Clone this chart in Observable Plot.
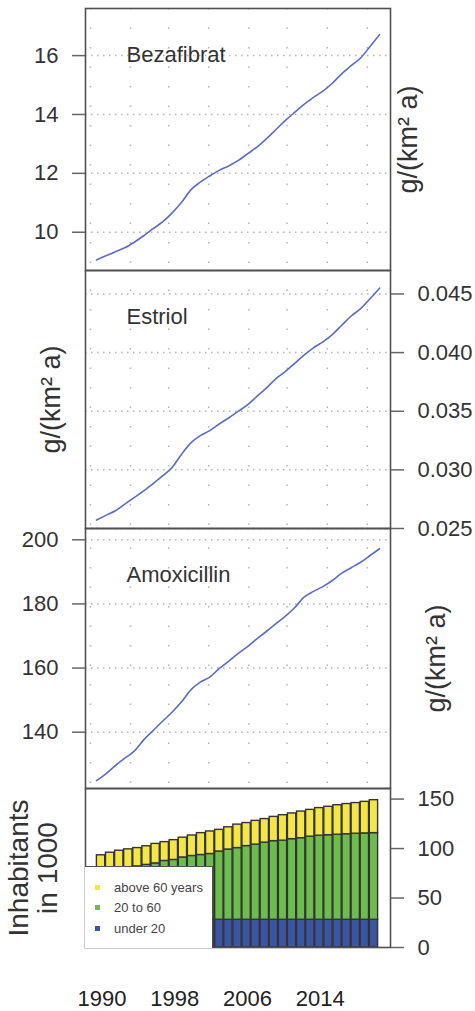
<!DOCTYPE html>
<html><head><meta charset="utf-8">
<script src="https://cdn.jsdelivr.net/npm/d3@7"></script>
<script src="https://cdn.jsdelivr.net/npm/@observablehq/plot@0.6"></script>
<style>
body{margin:0;background:#fff;font-family:"Liberation Sans",Arial,sans-serif;}
#wrap{position:relative;width:475px;height:1011px;overflow:hidden;background:#fff;}
.panel{position:absolute;left:0;}
.panel svg{overflow:visible;background:transparent;}
#legend{position:absolute;left:85px;top:866px;width:128px;height:82px;background:#fff;border-top:1.6px solid #505050;border-right:1.6px solid #505050;box-sizing:border-box;}
.item{position:absolute;left:29px;font-size:13px;color:#444;line-height:14px;white-space:nowrap;}
.sw{position:absolute;left:10px;width:5px;height:5px;}
</style></head><body><div id="wrap"></div>
<script>
// ---- data ----
const years = [1990,1991,1992,1993,1994,1995,1996,1997,1998,1999,2000,2001,2002,2003,2004,2005,2006,2007,2008,2009,2010,2011,2012,2013,2014,2015,2016,2017,2018,2019,2020];
const bezafibrat = [9.06,9.20,9.34,9.47,9.66,9.88,10.12,10.35,10.65,11.01,11.44,11.70,11.91,12.10,12.25,12.43,12.66,12.89,13.17,13.48,13.79,14.07,14.34,14.58,14.79,15.06,15.38,15.66,15.92,16.31,16.71];
const estriol = [0.02572,0.02612,0.02651,0.02708,0.02764,0.02820,0.02883,0.02948,0.03019,0.03131,0.03230,0.03292,0.03335,0.03391,0.03442,0.03498,0.03555,0.03626,0.03697,0.03775,0.03837,0.03908,0.03979,0.04041,0.04092,0.04154,0.04233,0.04312,0.04375,0.04459,0.04549];
const amoxicillin = [124.9,127.0,129.6,131.9,134.1,137.6,140.5,143.4,146.2,149.4,153.2,155.6,157.2,159.8,162.1,164.5,166.7,169.1,171.4,173.8,176.1,178.8,182.1,183.9,185.4,187.3,189.6,191.3,193.0,195.1,197.2];
const under20 = [28,28,28,28,28,28,28,28,28,28,28,28,28,28,28,28,28,28,28,28,28,28,28,28,28,28,28,28,28,28,28];
const age20to60 = [50,51,52,53,54,55.5,57,59.5,60.5,63,64.5,65.5,66.5,69,71,72.5,74.5,76,78,79.5,80,81.5,82.5,84,85,85.5,86,86.5,87,87.3,87.6];
const above60 = [15.2,16.8,17.8,18.2,18.5,18.8,19.7,19.0,20.0,20.0,20.7,22.1,22.8,21.9,22.5,23.7,23.3,24.0,23.8,24.5,25.7,26.0,26.9,27.1,27.9,28.7,29.8,30.5,31.0,31.9,33.3];
const groups = ["under 20","20 to 60","above 60 years"];
const legendOrder = ["above 60 years","20 to 60","under 20"];
const titles = ["Bezafibrat","Estriol","Amoxicillin"];
const unitLabel = "g/(km² a)";
const popLabel = "Inhabitants\nin 1000";
const bezTicks = [10,12,14,16];
const estTicks = [0.025,0.030,0.035,0.040,0.045];
const amoTicks = [140,160,180,200];
const popTicks = [0,50,100,150];
const yearLabels = [1990,1998,2006,2014];
const gridYears = [1989.36,1993.6,1997.66,2001.9,2006.15,2010.2,2014.46,2018.7];

// ---- styles ----
const FONT = '"Liberation Sans", Arial, sans-serif';
const lineColor = "#5a6cc6";
const frameColor = "#505050";
const gridColor = "#b4b4b4";
const colors = ["#3b55a5","#6cbd4e","#f5e648"];

const wrap = document.getElementById("wrap");
function place(svg, top){
  const d = document.createElement("div");
  d.className = "panel"; d.style.top = top + "px";
  d.appendChild(svg); wrap.appendChild(d);
}
function axis(ticks, anchor, fmt){
  return Plot.axisY(ticks, {anchor, tickSize: 13, tickPadding: 14, fontSize: 22, stroke: "#666", strokeWidth: 1.5, fill: "#333", tickFormat: fmt, label: null});
}
function linePanel({values, title, ticks, fmt, axisSide, domain, height, marginTop, labelDx}){
  const labelSide = axisSide === "left" ? "right" : "left";
  return Plot.plot({
    width: 475, height, marginTop, marginBottom: 0, marginLeft: 85, marginRight: 85,
    style: {fontFamily: FONT, background: "transparent", overflow: "visible"},
    x: {domain: [years[0], years[years.length-1]], insetLeft: 11, insetRight: 11, axis: null},
    y: {domain, axis: null},
    marks: [
      Plot.ruleX(gridYears, {stroke: gridColor, strokeWidth: 1.5, strokeDasharray: "1.5,18"}),
      Plot.ruleY(ticks, {stroke: gridColor, strokeWidth: 1.5, strokeDasharray: "1.5,4.5"}),
      Plot.lineY(values, {x: (d, i) => years[i], y: d => d, stroke: lineColor, strokeWidth: 1.6, curve: "monotone-x"}),
      Plot.frame({stroke: frameColor, strokeWidth: 1.6}),
      axis(ticks, axisSide, fmt),
      Plot.text([unitLabel], {frameAnchor: labelSide, textAnchor: "middle", dx: labelDx, rotate: -90, fontSize: 27, fill: "#333"}),
      Plot.text([title], {frameAnchor: "top-left", dx: 41, dy: 38, textAnchor: "start", fontSize: 22, fill: "#333"})
    ]
  });
}

place(linePanel({values: bezafibrat, title: titles[0], ticks: bezTicks, fmt: d3.format("d"), axisSide: "left", domain: [8.70, 17.60], height: 270, marginTop: 8, labelDx: 18}), 0);
place(linePanel({values: estriol, title: titles[1], ticks: estTicks, fmt: d3.format(".3f"), axisSide: "right", domain: [0.025, 0.047], height: 258, marginTop: 0, labelDx: -34}), 270);
place(linePanel({values: amoxicillin, title: titles[2], ticks: amoTicks, fmt: d3.format("d"), axisSide: "left", domain: [122.44, 203.52], height: 260, marginTop: 0, labelDx: 46}), 528);

const pop = years.flatMap((yr, i) => [
  {year: yr, group: groups[0], value: under20[i]},
  {year: yr, group: groups[1], value: age20to60[i]},
  {year: yr, group: groups[2], value: above60[i]}
]);

place(Plot.plot({
  width: 475, height: 223, marginTop: 0, marginBottom: 64, marginLeft: 85, marginRight: 85,
  style: {fontFamily: FONT, background: "transparent", overflow: "visible"},
  x: {domain: [years[0], years[years.length-1] + 1], insetLeft: 11, insetRight: 12, axis: null},
  y: {domain: [0, 160.7], axis: null},
  color: {domain: groups, range: colors},
  marks: [
    Plot.rectY(pop, Plot.stackY({x1: "year", x2: d => d.year + 1, y: "value", fill: "group", stroke: "#333", strokeWidth: 1.4, insetLeft: 0.4, insetRight: 0.4})),
    Plot.frame({stroke: frameColor, strokeWidth: 1.6}),
    axis(popTicks, "right", d3.format("d")),
    Plot.text(yearLabels, {x: d => d + 0.6, text: d => String(d), frameAnchor: "bottom", dy: 43, lineAnchor: "top", fontSize: 22, fill: "#222"}),
    Plot.text([popLabel], {frameAnchor: "left", textAnchor: "middle", dx: -52, rotate: -90, fontSize: 28, lineHeight: 1.03, fill: "#333"})
  ]
}), 788);

// legend
const lg = document.createElement("div");
lg.id = "legend";
legendOrder.forEach((g, k) => {
  const top = [14, 34, 55][k];
  const sw = document.createElement("div");
  sw.className = "sw"; sw.style.top = (top + 4) + "px"; sw.style.background = colors[groups.indexOf(g)];
  const t = document.createElement("div");
  t.className = "item"; t.style.top = top + "px"; t.textContent = g;
  lg.appendChild(sw); lg.appendChild(t);
});
wrap.appendChild(lg);
</script>
</body></html>
